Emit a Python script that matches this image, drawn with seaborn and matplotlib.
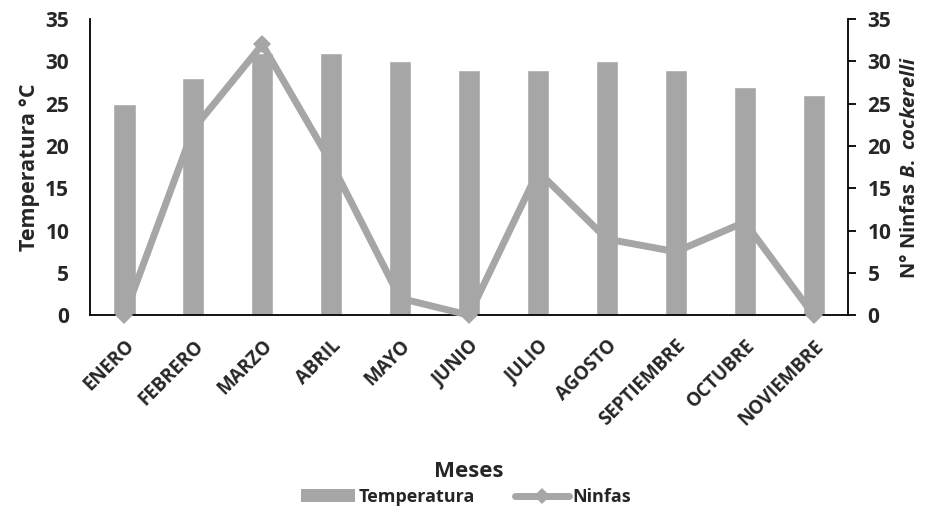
import matplotlib
matplotlib.use("Agg")
import matplotlib.pyplot as plt
import seaborn as sns
import pandas as pd
from matplotlib.lines import Line2D
from matplotlib.patches import Patch

meses = ["ENERO", "FEBRERO", "MARZO", "ABRIL", "MAYO", "JUNIO", "JULIO",
         "AGOSTO", "SEPTIEMBRE", "OCTUBRE", "NOVIEMBRE"]
temperatura = [25, 28, 31, 31, 30, 29, 29, 30, 29, 27, 26]
ninfas = [0, 22, 32, 18, 2, 0, 17, 9, 7.5, 11, 0]
yticks = [0, 5, 10, 15, 20, 25, 30, 35]

sns.set_theme(style="white")
plt.rcParams["font.family"] = ["Open Sans", "DejaVu Sans"]
plt.rcParams["font.weight"] = "bold"
plt.rcParams["mathtext.fontset"] = "custom"
plt.rcParams["mathtext.it"] = "Open Sans:italic:bold"
plt.rcParams["mathtext.rm"] = "Open Sans:bold"

gray = "#A6A6A6"
df = pd.DataFrame({"Mes": meses, "Temperatura": temperatura, "Ninfas": ninfas})

fig = plt.figure(figsize=(9.32, 5.15), dpi=100)
ax = fig.add_axes([0.0966, 0.388, 0.8134, 0.575])

sns.barplot(data=df, x="Mes", y="Temperatura", color=gray, width=0.32,
            saturation=1, ax=ax, zorder=1)
ax.set_xlim(-0.5, len(meses) - 0.5)
ax.set_ylim(0, 35)
ax.set_yticks(yticks)
ax.tick_params(axis="y", labelsize=15, length=0, pad=15)
ax.tick_params(axis="x", labelsize=13.5, length=0, pad=15)
for lab in ax.get_xticklabels():
    lab.set_rotation(45)
    lab.set_ha("right")
    lab.set_rotation_mode("anchor")
    lab.set_fontweight("bold")
for lab in ax.get_yticklabels():
    lab.set_fontweight("bold")
ax.set_ylabel("Temperatura °C", fontsize=15.5, fontweight="bold", labelpad=4)
ax.set_xlabel("Meses", fontsize=16, fontweight="bold", labelpad=22)
for s in ["top", "right"]:
    ax.spines[s].set_visible(False)
for s in ["left", "bottom"]:
    ax.spines[s].set_color("black")
    ax.spines[s].set_linewidth(1.3)

ax2 = ax.twinx()
sns.lineplot(x=list(range(len(meses))), y=ninfas, color=gray, linewidth=5,
             marker="D", markersize=9, markeredgewidth=0, ax=ax2,
             clip_on=False, zorder=3)
ax2.set_ylim(0, 35)
ax2.set_yticks(yticks)
ax2.tick_params(axis="y", labelsize=15, length=6, width=1.3, color="black",
                direction="out", right=True, pad=8)
for lab in ax2.get_yticklabels():
    lab.set_fontweight("bold")
ax2.set_ylabel(r"N° Ninfas $\it{B.\ cockerelli}$", fontsize=14.5,
               fontweight="bold", labelpad=6)
for s in ["top", "left", "bottom"]:
    ax2.spines[s].set_visible(False)
ax2.spines["right"].set_color("black")
ax2.spines["right"].set_linewidth(1.3)

handles = [Patch(facecolor=gray, edgecolor="none", label="Temperatura"),
           Line2D([0], [0], color=gray, linewidth=5, marker="D",
                  markersize=8, markeredgewidth=0, label="Ninfas")]
fig.legend(handles=handles, loc="center", bbox_to_anchor=(0.5, 0.035),
           ncol=2, frameon=False, prop={"weight": "bold", "size": 13},
           handlelength=3.0, columnspacing=2.2, handletextpad=0.2)

fig.savefig("out.png", dpi=100)
